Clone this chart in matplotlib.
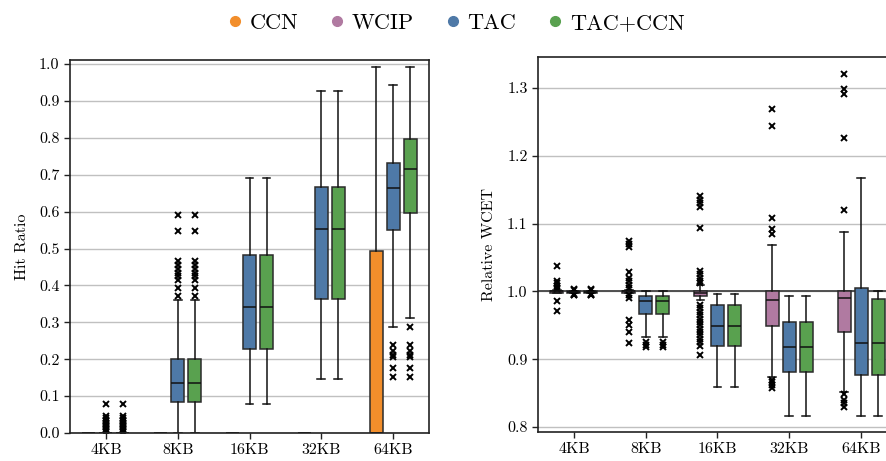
import matplotlib
matplotlib.use("Agg")
import matplotlib.pyplot as plt
from matplotlib.lines import Line2D

plt.rcParams['font.family'] = ['cmr10', 'DejaVu Serif']
plt.rcParams['mathtext.fontset'] = 'cm'
plt.rcParams['axes.formatter.use_mathtext'] = True
plt.rcParams['axes.unicode_minus'] = False

sizes = ["4KB", "8KB", "16KB", "32KB", "64KB"]
series = ["CCN", "WCIP", "TAC", "TAC+CCN"]
colors = {"CCN": "#f28e2b", "WCIP": "#b07aa1", "TAC": "#4e79a7", "TAC+CCN": "#59a14f"}

# ---------- Hit ratio (left) : per series, per size: (whislo, q1, med, q3, whishi) ----------
hit_ccn = [(0, 0, 0, 0, 0), (0, 0, 0, 0, 0), (0, 0, 0, 0, 0), (0, 0, 0, 0, 0),
           (0, 0, 0, 0.493, 0.992)]
hit_ccn_fliers = [[], [], [], [], []]

hit_tac = [(0, 0, 0, 0, 0),
           (0, 0.084, 0.135, 0.200, 0.360),
           (0.079, 0.228, 0.341, 0.482, 0.691),
           (0.146, 0.363, 0.553, 0.667, 0.927),
           (0.287, 0.550, 0.664, 0.732, 0.943)]
hit_tac_fliers = [[0.004, 0.008, 0.012, 0.016, 0.020, 0.024, 0.028, 0.032, 0.036, 0.040, 0.045, 0.079],
                  [0.371, 0.393, 0.415, 0.425, 0.435, 0.445, 0.455, 0.465, 0.547, 0.591],
                  [], [],
                  [0.152, 0.176, 0.205, 0.212, 0.222, 0.238]]

hit_tacccn = [(0, 0, 0, 0, 0),
              (0, 0.084, 0.135, 0.200, 0.360),
              (0.079, 0.228, 0.341, 0.482, 0.691),
              (0.146, 0.363, 0.553, 0.667, 0.927),
              (0.312, 0.596, 0.715, 0.797, 0.992)]
hit_tacccn_fliers = [[0.004, 0.008, 0.012, 0.016, 0.020, 0.024, 0.028, 0.032, 0.036, 0.040, 0.045, 0.079],
                     [0.371, 0.393, 0.415, 0.425, 0.435, 0.445, 0.455, 0.465, 0.547, 0.591],
                     [], [],
                     [0.152, 0.176, 0.205, 0.212, 0.222, 0.238, 0.287]]

# ---------- Relative WCET (right) ----------
wcet_wcip = [(0.997, 0.998, 1.0, 1.0, 1.002),
             (0.997, 0.998, 1.0, 1.0, 1.002),
             (0.987, 0.993, 0.998, 1.0, 1.009),
             (0.873, 0.949, 0.988, 1.0, 1.068),
             (0.852, 0.940, 0.990, 1.0, 1.088)]
wcet_wcip_fliers = [[0.971, 0.986, 1.003, 1.005, 1.008, 1.012, 1.016, 1.037],
                    [0.924, 0.940, 0.950, 0.958, 0.990, 0.995, 1.005, 1.010, 1.015, 1.020, 1.028,
                     1.065, 1.070, 1.075],
                    [0.906, 0.920, 0.925, 0.930, 0.935, 0.940, 0.945, 0.950, 0.955, 0.960, 0.965,
                     0.970, 0.975, 0.980, 1.012, 1.015, 1.020, 1.025, 1.030, 1.093, 1.125, 1.130,
                     1.135, 1.140],
                    [0.858, 0.862, 0.866, 0.869, 1.085, 1.092, 1.108, 1.244, 1.269],
                    [0.830, 0.835, 0.840, 0.848, 1.120, 1.226, 1.291, 1.299, 1.321]]

wcet_tac = [(0.997, 0.998, 0.999, 1.0, 1.001),
            (0.933, 0.967, 0.986, 0.993, 1.0),
            (0.859, 0.919, 0.949, 0.980, 0.996),
            (0.816, 0.881, 0.918, 0.955, 0.993),
            (0.816, 0.877, 0.924, 1.005, 1.167)]
wcet_tac_fliers = [[0.994, 0.995, 0.996, 1.002, 1.003],
                   [0.918, 0.921, 0.925], [], [], []]

wcet_tacccn = [(0.997, 0.998, 0.999, 1.0, 1.001),
               (0.933, 0.967, 0.986, 0.993, 1.0),
               (0.859, 0.919, 0.949, 0.980, 0.996),
               (0.816, 0.881, 0.918, 0.955, 0.993),
               (0.816, 0.877, 0.924, 0.989, 1.0)]
wcet_tacccn_fliers = [[0.994, 0.995, 0.996, 1.002, 1.003],
                      [0.918, 0.921, 0.925], [], [], []]

W, H = 887, 461
fig = plt.figure(figsize=(W / 100, H / 100), dpi=100)
axL = fig.add_axes([70 / W, (H - 433) / H, 359 / W, 373 / H])
axR = fig.add_axes([538 / W, (H - 432) / H, 359 / W, 375 / H])

OFF = 0.237
BW = 0.18
EDGE = "#2b2b2b"


def draw(ax, stats_list, fliers_list, offset, color):
    stats = []
    for i, (lo, q1, med, q3, hi) in enumerate(stats_list):
        stats.append(dict(whislo=lo, q1=q1, med=med, q3=q3, whishi=hi,
                          fliers=fliers_list[i]))
    pos = [i + offset for i in range(len(stats))]
    ax.bxp(stats, positions=pos, widths=BW, capwidths=0.11, patch_artist=True,
           showfliers=True, manage_ticks=False,
           boxprops=dict(facecolor=color, edgecolor=EDGE, linewidth=1.1),
           medianprops=dict(color="#111111", linewidth=1.1),
           whiskerprops=dict(color="#111111", linewidth=1.1),
           capprops=dict(color="#111111", linewidth=1.1),
           flierprops=dict(marker="x", markersize=4, markeredgewidth=1.4,
                           markeredgecolor="black", linestyle="none"))


draw(axL, hit_ccn, hit_ccn_fliers, -OFF, colors["CCN"])
draw(axL, hit_tac, hit_tac_fliers, 0, colors["TAC"])
draw(axL, hit_tacccn, hit_tacccn_fliers, OFF, colors["TAC+CCN"])

draw(axR, wcet_wcip, wcet_wcip_fliers, -OFF, colors["WCIP"])
draw(axR, wcet_tac, wcet_tac_fliers, 0, colors["TAC"])
draw(axR, wcet_tacccn, wcet_tacccn_fliers, OFF, colors["TAC+CCN"])
axR.axhline(1.0, color="#444444", linewidth=1.3, zorder=0.6)

for ax in (axL, axR):
    ax.set_xlim(-0.5, 4.5)
    ax.set_xticks(range(len(sizes)))
    ax.set_xticklabels(sizes)
    ax.yaxis.grid(True, color="#c0c0c0", linewidth=1.0)
    ax.set_axisbelow(True)
    ax.tick_params(labelsize=11.5, length=4, width=1, color="#222222")
    for s in ax.spines.values():
        s.set_linewidth(1.2)
        s.set_color("#222222")

axL.set_ylim(0, 1.011)
axL.set_yticks([i / 10 for i in range(11)])
axL.set_yticklabels([f"{i / 10:.1f}" for i in range(11)])
axL.set_ylabel("Hit Ratio", fontsize=11.5, labelpad=7)

axR.set_ylim(0.7926, 1.3457)
axR.set_yticks([0.8, 0.9, 1.0, 1.1, 1.2, 1.3])
axR.set_yticklabels(["0.8", "0.9", "1.0", "1.1", "1.2", "1.3"])
axR.set_ylabel("Relative WCET", fontsize=11.5, labelpad=8)

handles = [Line2D([], [], marker="o", linestyle="none", markersize=7,
                  markerfacecolor=colors[s], markeredgecolor=colors[s]) for s in series]
fig.legend(handles, series, loc="upper center", bbox_to_anchor=(0.512, 1.0), ncol=4,
           frameon=False, fontsize=16, handlelength=1.0, handletextpad=0.15,
           columnspacing=1.26, borderaxespad=0.2)

fig.savefig("out.png", dpi=100)
